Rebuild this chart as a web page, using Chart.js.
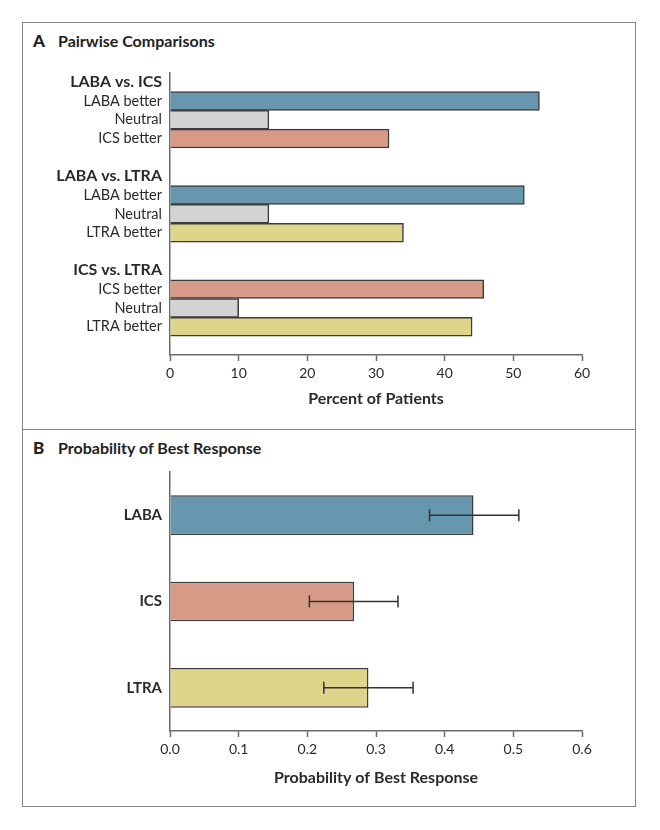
<!DOCTYPE html>
<html>
<head>
<meta charset="utf-8">
<script src="https://cdn.jsdelivr.net/npm/chart.js@4/dist/chart.umd.min.js"></script>
<style>
  body { margin: 0; background: #fff; font-family: Lato, "Open Sans", sans-serif; }
  #page { position: relative; width: 660px; height: 830px; }
  .frame { position: absolute; left: 22px; top: 22px; width: 614px; height: 785px; border: 1.5px solid #858585; box-sizing: border-box; }
  .divider { position: absolute; left: 22px; top: 429px; width: 614px; height: 0; border-top: 1.5px solid #858585; }
  .panel-title { position: absolute; left: 33px; font-size: 16px; font-weight: bold; color: #222; line-height: 20px; }
  .panel-title b { display: inline-block; width: 25px; font-size: 17px; }
  canvas { position: absolute; }
</style>
</head>
<body>
<div id="page">
  <div class="frame"></div>
  <div class="divider"></div>
  <div class="panel-title" style="top:31px"><b>A</b>Pairwise Comparisons</div>
  <div class="panel-title" style="top:438px"><b>B</b>Probability of Best Response</div>
  <canvas id="pairChart" style="left:23px; top:56px; width:614px; height:371px"></canvas>
  <canvas id="bestChart" style="left:23px; top:455px; width:614px; height:350px"></canvas>
</div>
<script>
// Panel A: pairwise comparisons (percent of patients)
const pairLabels = [
  'LABA vs. ICS', 'LABA better', 'Neutral', 'ICS better', '',
  'LABA vs. LTRA', 'LABA better', 'Neutral', 'LTRA better', '',
  'ICS vs. LTRA', 'ICS better', 'Neutral', 'LTRA better', ''
];
const pairValues = [null, 53.8, 14.4, 31.9, null, null, 51.6, 14.4, 34.0, null, null, 45.7, 10.0, 44.0, null];
const pairHeaders = ['LABA vs. ICS', 'LABA vs. LTRA', 'ICS vs. LTRA'];
const pairTicks = [0, 10, 20, 30, 40, 50, 60];

// Panel B: probability of best response with interval
const bestLabels = ['LABA', 'ICS', 'LTRA'];
const bestValues = [0.442, 0.268, 0.289];
const bestLow = [0.378, 0.203, 0.224];
const bestHigh = [0.508, 0.332, 0.354];
const bestTicks = [0.0, 0.1, 0.2, 0.3, 0.4, 0.5, 0.6];

const palette = {
  LABA: '#6797ae',
  ICS: '#d69a86',
  LTRA: '#ded58b',
  Neutral: '#d3d3d3'
};
const barEdge = '#3c3c3c';
const axisColor = '#6a6a6a';
const textColor = '#2a2a2a';
const fontFamily = 'Lato, "Open Sans", sans-serif';

function colorFor(label) {
  if (label.startsWith('Neutral')) return palette.Neutral;
  return palette[label.split(' ')[0]] || '#ccc';
}

function xAxis(ticks, max, title, fmt, height, titlePad) {
  return {
    type: 'linear',
    min: 0,
    max: max,
    afterBuildTicks: s => { s.ticks = ticks.map(v => ({ value: v })); },
    afterFit: s => { s.height = height; },
    grid: { drawOnChartArea: false, drawTicks: true, tickLength: 6, tickWidth: 1.5, tickColor: axisColor },
    border: { color: axisColor, width: 1.5 },
    ticks: { color: textColor, padding: 4, font: { family: fontFamily, size: 14 }, callback: fmt },
    title: {
      display: true, text: title, color: textColor,
      font: { family: fontFamily, size: 16, weight: 'bold' },
      padding: { top: 0, bottom: titlePad }
    }
  };
}

Chart.defaults.animation = false;

new Chart(document.getElementById('pairChart'), {
  type: 'bar',
  data: {
    labels: pairLabels,
    datasets: [{
      data: pairValues,
      backgroundColor: pairLabels.map(colorFor),
      borderColor: barEdge,
      borderWidth: 1.5,
      barPercentage: 1,
      categoryPercentage: 1
    }]
  },
  options: {
    indexAxis: 'y',
    responsive: false,
    devicePixelRatio: 1,
    layout: { padding: { top: 13, right: 55, left: 0, bottom: 0 } },
    plugins: { legend: { display: false }, tooltip: { enabled: false } },
    scales: {
      x: xAxis(pairTicks, 60, 'Percent of Patients', v => v, 72, 19),
      y: {
        afterFit: s => { s.width = 147; },
        grid: { drawOnChartArea: false, drawTicks: false },
        border: { color: axisColor, width: 1.5 },
        ticks: {
          padding: 8,
          color: textColor,
          autoSkip: false,
          font: ctx => pairHeaders.includes(pairLabels[ctx.index])
            ? { family: fontFamily, size: 16, weight: 'bold' }
            : { family: fontFamily, size: 14.5 }
        }
      }
    }
  }
});

const errorBars = {
  id: 'errorBars',
  afterDatasetsDraw(chart) {
    const { ctx, scales: { x, y } } = chart;
    ctx.save();
    ctx.strokeStyle = '#333';
    ctx.lineWidth = 1.5;
    bestLabels.forEach((_, i) => {
      const yc = y.getPixelForValue(i);
      const x1 = x.getPixelForValue(bestLow[i]);
      const x2 = x.getPixelForValue(bestHigh[i]);
      ctx.beginPath();
      ctx.moveTo(x1, yc); ctx.lineTo(x2, yc);
      ctx.moveTo(x1, yc - 6); ctx.lineTo(x1, yc + 6);
      ctx.moveTo(x2, yc - 6); ctx.lineTo(x2, yc + 6);
      ctx.stroke();
    });
    ctx.restore();
  }
};

new Chart(document.getElementById('bestChart'), {
  type: 'bar',
  data: {
    labels: bestLabels,
    datasets: [{
      data: bestValues,
      backgroundColor: bestLabels.map(colorFor),
      borderColor: barEdge,
      borderWidth: 1.5,
      barPercentage: 0.46,
      categoryPercentage: 1
    }]
  },
  options: {
    indexAxis: 'y',
    responsive: false,
    devicePixelRatio: 1,
    layout: { padding: { top: 13, right: 55, left: 0, bottom: 0 } },
    plugins: { legend: { display: false }, tooltip: { enabled: false } },
    scales: {
      x: xAxis(bestTicks, 0.6, 'Probability of Best Response', v => v.toFixed(1), 74, 18),
      y: {
        afterFit: s => { s.width = 147; },
        grid: { drawOnChartArea: false, drawTicks: false },
        border: { color: axisColor, width: 1.5 },
        ticks: {
          padding: 8,
          color: textColor,
          font: { family: fontFamily, size: 15, weight: 'bold' }
        }
      }
    }
  },
  plugins: [errorBars]
});
</script>
</body>
</html>
